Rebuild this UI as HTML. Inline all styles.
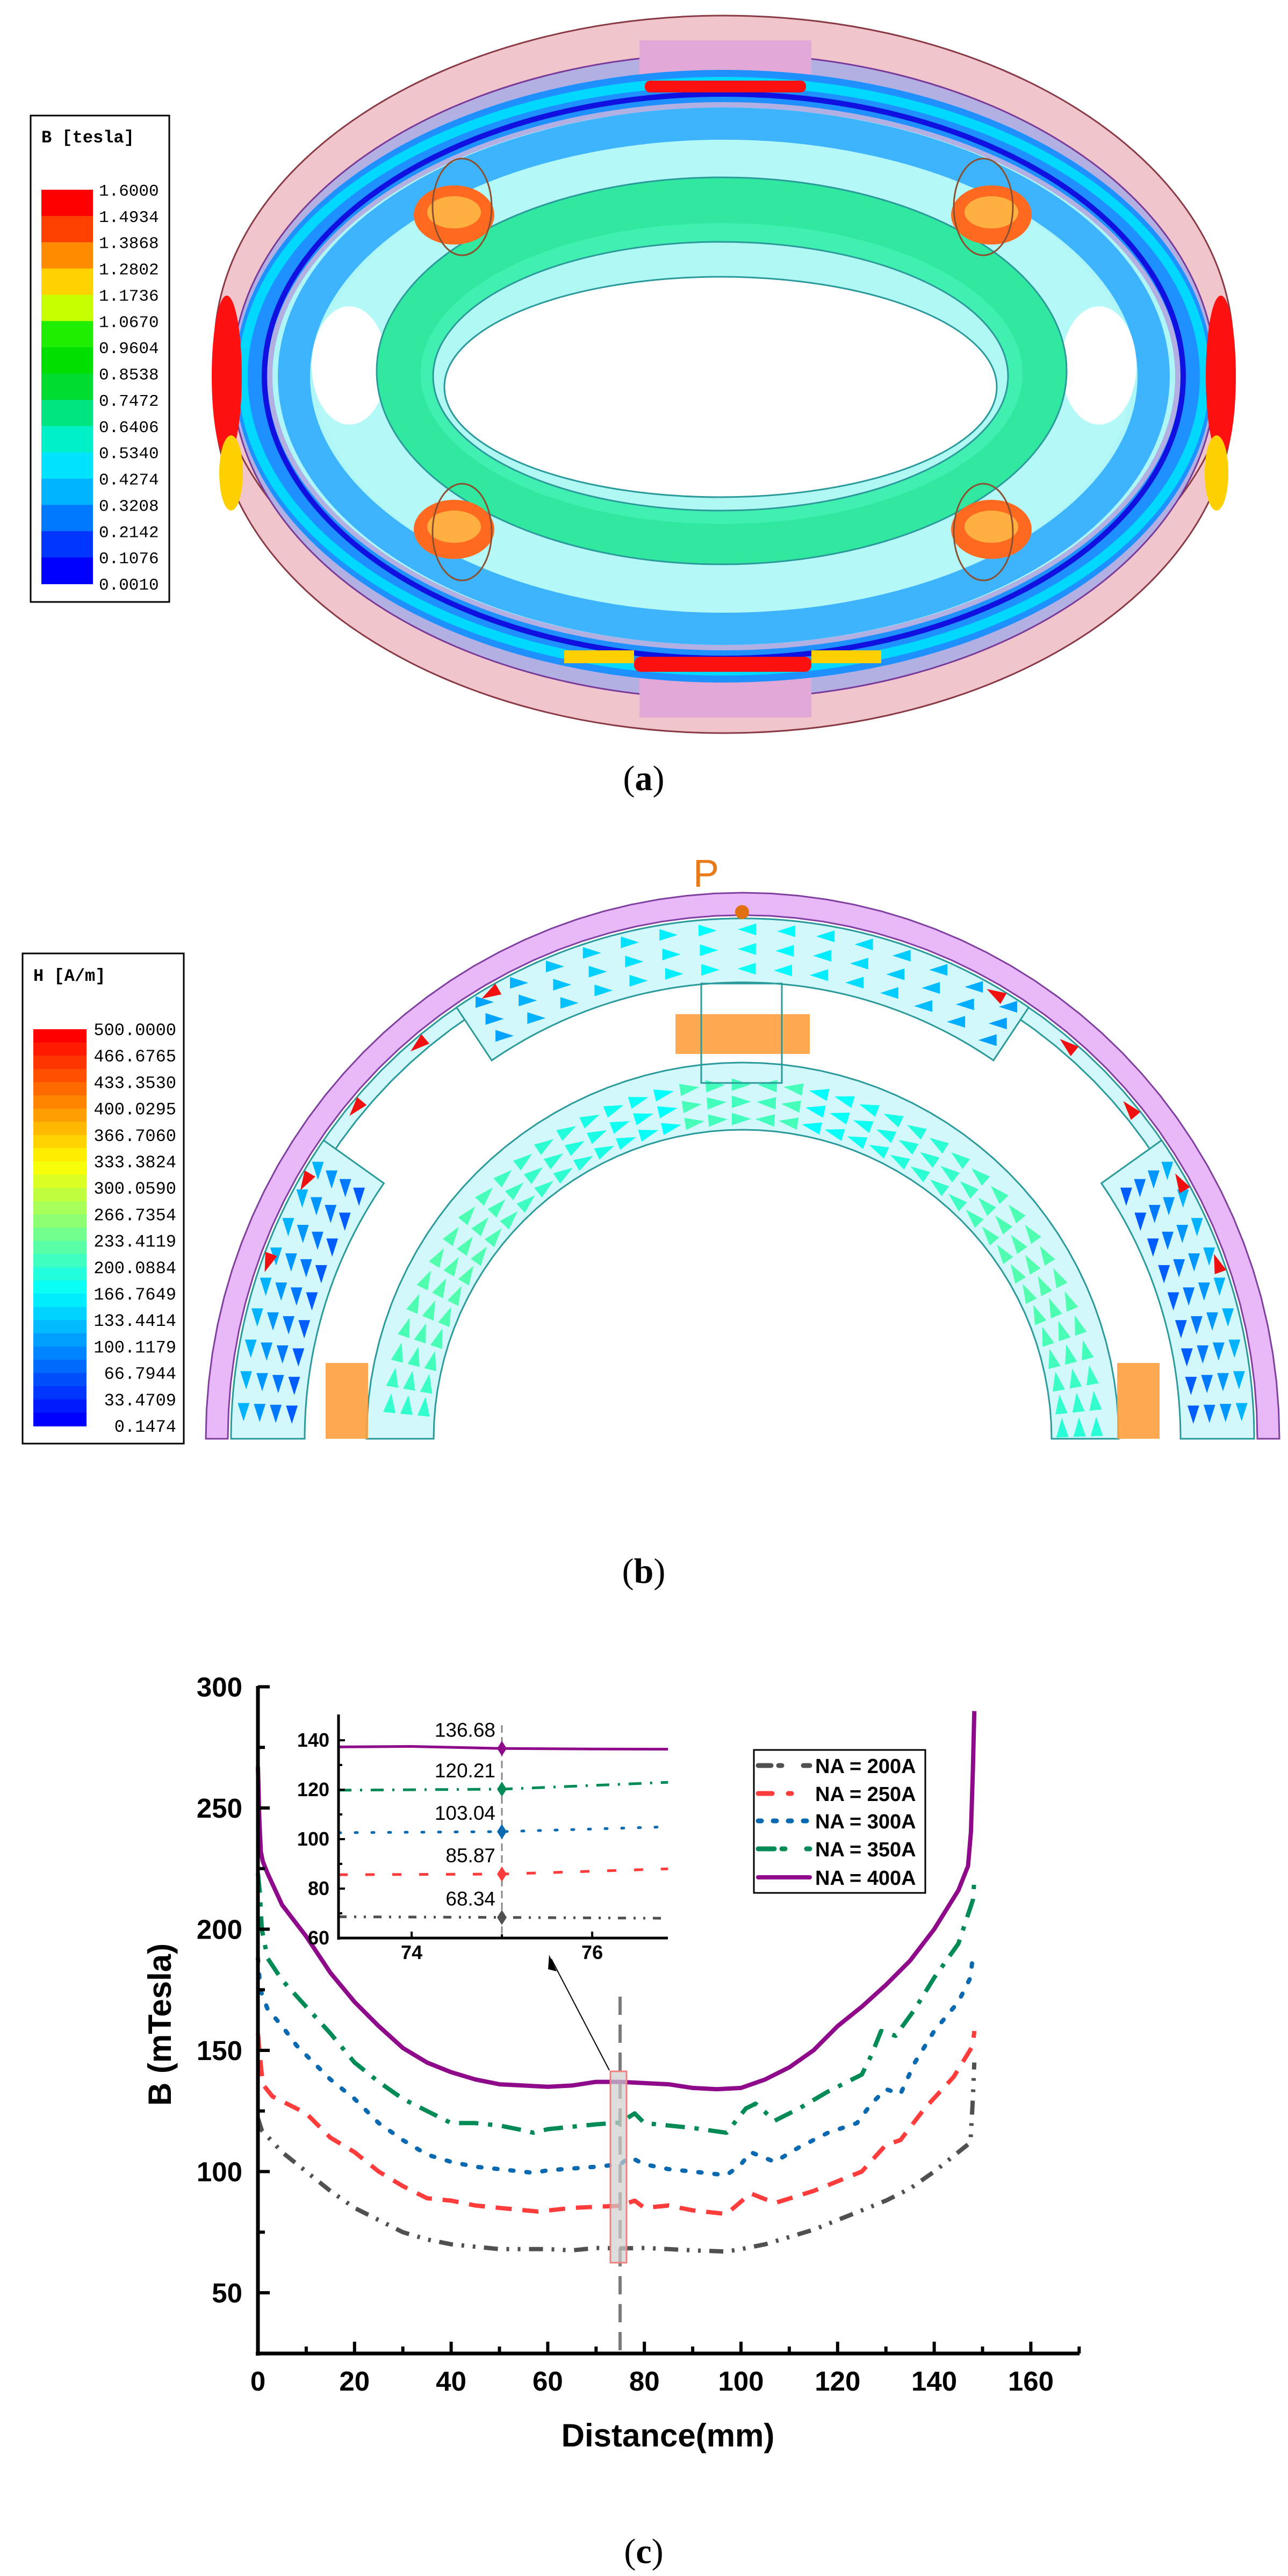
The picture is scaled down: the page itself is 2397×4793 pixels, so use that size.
<!DOCTYPE html>
<html><head><meta charset="utf-8"><style>
html,body{margin:0;padding:0;background:#fff}
svg{display:block}
.tk{font-family:"Liberation Sans",Arial,sans-serif;font-weight:bold}
.mono{font-family:"Liberation Mono",monospace}
</style></head><body>
<svg id="s" width="2397" height="4793" viewBox="0 0 2397 4793" xmlns="http://www.w3.org/2000/svg">
<rect width="2397" height="4793" fill="#fff"/>

<!-- ================= (a) ================= -->
<g id="a">
  <ellipse cx="1347" cy="744" rx="948" ry="620" fill="#f0c6cc" stroke="#8a3a45" stroke-width="3"/>
  <rect x="399" y="649" width="1897" height="95" fill="#f0c6cc"/>
  <ellipse cx="1347" cy="649" rx="948" ry="620" fill="#f0c6cc" stroke="#8a3a45" stroke-width="3"/>
  <ellipse cx="1347" cy="700" rx="915" ry="600" fill="#b2b0e2" stroke="#7a3a9a" stroke-width="3"/>
  <rect x="1190" y="75" width="320" height="110" fill="#e2a8d8"/>
  <rect x="1190" y="1235" width="320" height="100" fill="#e2a8d8"/>
  <ellipse cx="1347" cy="700" rx="880" ry="540" fill="none" stroke="#1e90ff" stroke-width="60"/>
  <ellipse cx="1347" cy="700" rx="895" ry="548" fill="none" stroke="#00d8ff" stroke-width="18"/>
  <ellipse cx="1347" cy="700" rx="855" ry="525" fill="none" stroke="#1010e0" stroke-width="10"/>
  <ellipse cx="422" cy="700" rx="28" ry="150" fill="#ff1010"/>
  <ellipse cx="2272" cy="700" rx="28" ry="150" fill="#ff1010"/>
  <ellipse cx="430" cy="880" rx="22" ry="70" fill="#ffd000"/>
  <ellipse cx="2264" cy="880" rx="22" ry="70" fill="#ffd000"/>
  <rect x="1200" y="150" width="300" height="22" rx="10" fill="#ff1010"/>
  <rect x="1180" y="1222" width="330" height="28" rx="12" fill="#ff1010"/>
  <rect x="1050" y="1210" width="130" height="24" fill="#ffd000"/>
  <rect x="1510" y="1210" width="130" height="24" fill="#ffd000"/>
  <ellipse cx="1347" cy="700" rx="840" ry="500" fill="#aef6f8"/>
  <ellipse cx="1347" cy="700" rx="800" ry="470" fill="none" stroke="#2aa8ff" stroke-width="60" opacity="0.85"/>
  <ellipse cx="1347" cy="700" rx="760" ry="440" fill="#b4f8f8"/>
  <ellipse cx="650" cy="680" rx="70" ry="110" fill="#fff"/>
  <ellipse cx="2045" cy="680" rx="70" ry="110" fill="#fff"/>
  <ellipse cx="1343" cy="690" rx="642" ry="360" fill="#30e8a0" stroke="#2a9a9a" stroke-width="3"/>
  <ellipse cx="1343" cy="695" rx="560" ry="280" fill="#40f0b0"/>
  <ellipse cx="1341" cy="700" rx="535" ry="250" fill="#b0f8f4" stroke="#2a9a9a" stroke-width="3"/>
  <ellipse cx="1341" cy="720" rx="514" ry="205" fill="#fff" stroke="#2a9a9a" stroke-width="3"/>
  <g>
    <ellipse cx="845" cy="400" rx="75" ry="55" fill="#ff6a20"/><ellipse cx="845" cy="395" rx="50" ry="30" fill="#ffb040"/>
    <ellipse cx="1845" cy="400" rx="75" ry="55" fill="#ff6a20"/><ellipse cx="1845" cy="395" rx="50" ry="30" fill="#ffb040"/>
    <ellipse cx="845" cy="985" rx="75" ry="55" fill="#ff6a20"/><ellipse cx="845" cy="980" rx="50" ry="30" fill="#ffb040"/>
    <ellipse cx="1845" cy="985" rx="75" ry="55" fill="#ff6a20"/><ellipse cx="1845" cy="980" rx="50" ry="30" fill="#ffb040"/>
    <ellipse cx="860" cy="385" rx="55" ry="90" fill="none" stroke="#8a5030" stroke-width="3"/>
    <ellipse cx="1830" cy="385" rx="55" ry="90" fill="none" stroke="#8a5030" stroke-width="3"/>
    <ellipse cx="860" cy="990" rx="55" ry="90" fill="none" stroke="#8a5030" stroke-width="3"/>
    <ellipse cx="1830" cy="990" rx="55" ry="90" fill="none" stroke="#8a5030" stroke-width="3"/>
  </g>
  <rect x="57" y="215" width="258" height="905" fill="#fff" stroke="#000" stroke-width="3"/>
  <text x="77" y="265" class="mono" font-size="32" font-weight="bold">B [tesla]</text>
  <g id="barA"></g>
</g>
<text x="1198" y="1470" font-family="'Liberation Serif',serif" font-size="66" text-anchor="middle">(<tspan font-weight="bold">a</tspan>)</text>

<!-- ================= (b) ================= -->
<g id="b">
  <path id="purp" fill="#e8b8f8" stroke="#8040a0" stroke-width="3"/>
  <path id="thin" fill="#d2f8fc" stroke="#2a9a9a" stroke-width="3"/>
  <path id="topblk" fill="#d2f8fc" stroke="#2a9a9a" stroke-width="3"/>
  <path id="lblk" fill="#d2f8fc" stroke="#2a9a9a" stroke-width="3"/>
  <path id="rblk" fill="#d2f8fc" stroke="#2a9a9a" stroke-width="3"/>
  <path id="inner" fill="#d2f8fc" stroke="#2a9a9a" stroke-width="3"/>
  <g id="arrows"></g>
  <rect x="1257" y="1887" width="250" height="74" fill="#ffa040" opacity="0.9"/>
  <rect x="1305" y="1830" width="150" height="185" fill="none" stroke="#2a9a9a" stroke-width="3"/>
  <rect x="606" y="2536" width="79" height="141" fill="#ffa040" opacity="0.9"/>
  <rect x="2079" y="2536" width="79" height="141" fill="#ffa040" opacity="0.9"/>
  <text x="1290" y="1650" font-family="'Liberation Sans',sans-serif" font-size="72" fill="#e87a1a">P</text>
  <circle cx="1381" cy="1697" r="13" fill="#e07010"/>
  <rect x="42" y="1774" width="300" height="912" fill="#fff" stroke="#000" stroke-width="3"/>
  <text x="62" y="1825" class="mono" font-size="32" font-weight="bold">H [A/m]</text>
  <g id="barB"></g>
</g>
<text x="1198" y="2945" font-family="'Liberation Serif',serif" font-size="66" text-anchor="middle">(<tspan font-weight="bold">b</tspan>)</text>

<!-- ================= (c) ================= -->
<g id="c">
  <line x1="1154" y1="3715" x2="1154" y2="4379" stroke="#7a7a7a" stroke-width="6" stroke-dasharray="34,18"/>
  <g id="curves"></g>
  <rect x="1136" y="3854" width="30" height="356" fill="#cfcfcf" fill-opacity="0.7" stroke="#f08080" stroke-width="3"/>
  <line x1="1134" y1="3852" x2="1026" y2="3645" stroke="#000" stroke-width="2"/>
  <polygon points="1022,3637 1036,3668 1020,3664" fill="#000"/>
  <g id="axes"></g>
  <text x="1243" y="4552" class="tk" font-size="60" text-anchor="middle">Distance(mm)</text>
  <text transform="translate(318,3767) rotate(-90)" class="tk" font-size="60" text-anchor="middle">B (mTesla)</text>
  <g id="inset"></g>
  <rect x="1403" y="3256" width="319" height="266" fill="#fff" stroke="#000" stroke-width="3"/>
  <g id="leg"></g>
</g>
<text x="1198" y="4769" font-family="'Liberation Serif',serif" font-size="66" text-anchor="middle">(<tspan font-weight="bold">c</tspan>)</text>
</svg>
<script>
(function(){
var NS="http://www.w3.org/2000/svg";
function el(parent,tag,attrs,txt){var e=document.createElementNS(NS,tag);for(var k in attrs)e.setAttribute(k,attrs[k]);if(txt!=null)e.textContent=txt;parent.appendChild(e);return e;}
function $(id){return document.getElementById(id);}
var colA=["#ff0000","#ff4000","#ff8c00","#ffd200","#c8ff00","#20ee00","#00e000","#00dc30","#00e480","#00f0c8","#00e4ff","#00b4ff","#0078ff","#0036ff","#0000ff"];
var labA=["1.6000","1.4934","1.3868","1.2802","1.1736","1.0670","0.9604","0.8538","0.7472","0.6406","0.5340","0.4274","0.3208","0.2142","0.1076","0.0010"];
var g=$("barA"),y0=353,y1=1086,h=(y1-y0)/15;
for(var i=0;i<15;i++)el(g,"rect",{x:77,y:y0+i*h,width:96,height:h+1,fill:colA[i]});
for(var i=0;i<16;i++)el(g,"text",{x:184,y:y0+i*(y1-y0)/15+11,"font-size":31,"class":"mono"},labA[i]);
function jet0(t){
  var r=Math.min(1,Math.max(0,1.5-Math.abs(4*t-3))),gg=Math.min(1,Math.max(0,1.5-Math.abs(4*t-2))),b=Math.min(1,Math.max(0,1.5-Math.abs(4*t-1)));
  return "rgb("+Math.round(r*255)+","+Math.round(gg*255)+","+Math.round(b*255)+")";}
function jet(t){t=Math.max(0,Math.min(1,t));return jet0(0.125+0.75*t);}
var labB=["500.0000","466.6765","433.3530","400.0295","366.7060","333.3824","300.0590","266.7354","233.4119","200.0884","166.7649","133.4414","100.1179","66.7944","33.4709","0.1474"];
g=$("barB");y0=1915;y1=2653;var n=30;h=(y1-y0)/n;
for(var i=0;i<n;i++)el(g,"rect",{x:62,y:y0+i*h,width:99,height:h+1,fill:jet(1-i/(n-1))});
for(var i=0;i<16;i++)el(g,"text",{x:328,y:y0+i*(y1-y0)/15+11,"font-size":32,"class":"mono","text-anchor":"end"},labB[i]);
var cx=1382,cy=2677;
function P(r,ang,sy){sy=sy||1.017;return [cx+r*Math.cos(ang),cy-r*sy*Math.sin(ang)];}
function annulus(r1,r2,a1,a2,sy){var d="",N=60,i,p;
  for(i=0;i<=N;i++){p=P(r2,a1+(a2-a1)*i/N,sy);d+=(i?"L":"M")+p[0].toFixed(1)+","+p[1].toFixed(1);}
  for(i=N;i>=0;i--){p=P(r1,a1+(a2-a1)*i/N,sy);d+="L"+p[0].toFixed(1)+","+p[1].toFixed(1);}
  return d+"Z";}
var D=Math.PI/180;
$("purp").setAttribute("d",annulus(958,999,0,Math.PI));
$("thin").setAttribute("d",annulus(925,952,0,Math.PI));
$("topblk").setAttribute("d",annulus(835,952,(90-34)*D,(90+34)*D));
$("lblk").setAttribute("d",annulus(815,952,145*D,180*D));
$("rblk").setAttribute("d",annulus(815,952,0,35*D));
$("inner").setAttribute("d",annulus(575,700,0,Math.PI,1.0));
var ag=$("arrows");
function tri(x,y,ang,len,col){var w=len*0.32,c=Math.cos(ang),s=Math.sin(ang);
  var p=[[x+c*len/2,y+s*len/2],[x-c*len/2-s*w,y-s*len/2+c*w],[x-c*len/2+s*w,y-s*len/2-c*w]];
  el(ag,"polygon",{points:p.map(function(q){return q[0].toFixed(1)+","+q[1].toFixed(1)}).join(" "),fill:col});}
for(var r=595;r<=690;r+=32){for(var a=2;a<178;a+=4.2){var p=P(r,a*D,1.0);
  tri(p[0],p[1],-(a*D)+(a<90?Math.PI/2:-Math.PI/2)+Math.PI,36,jet(0.38+0.06*Math.sin(a*D*3)+(Math.abs(a-90)<12?0.1:0)));}}
for(var r=860;r<=935;r+=36){for(var a=58;a<=122;a+=4.5){var p=P(r,a*D);
  tri(p[0],p[1],(a<90?Math.PI:0),34,jet(0.2+0.15*(1-Math.abs(a-90)/34)));}}
for(var r=840;r<=935;r+=30){for(var a=3;a<=33;a+=3.6){var p=P(r,(180-a)*D),q=P(r,a*D);
  var c=jet(0.12+0.12*(r-840)/95);
  tri(p[0],p[1],Math.PI/2,34,c);tri(q[0],q[1],Math.PI/2,34,c);}}
for(var a=20;a<=160;a+=10){if(Math.abs(a-90)<25)continue;var p=P(940,a*D);tri(p[0],p[1],-a*D-Math.PI/2,36,"#f01010");}
function X(d){return 480+8.99*d} function Y(b){return 4266-(b-50)*4.51}
var ax=$("axes");
el(ax,"line",{x1:480,y1:3137,x2:480,y2:4383,stroke:"#000","stroke-width":7});
el(ax,"line",{x1:476,y1:4379,x2:2009,y2:4379,stroke:"#000","stroke-width":7});
for(var v=25;v<=300;v+=25){var yy=Y(v),maj=(v%50==0);el(ax,"line",{x1:480,y1:yy,x2:480+(maj?22:13),y2:yy,stroke:"#000","stroke-width":6});
  if(maj)el(ax,"text",{x:451,y:yy+18,"font-size":51,"class":"tk","text-anchor":"end"},v);}
for(var d=0;d<=170;d+=10){var xx=X(d),maj=(d%20==0);el(ax,"line",{x1:xx,y1:4379,x2:xx,y2:4379-(maj?22:13),stroke:"#000","stroke-width":6});
  if(maj&&d<=160)el(ax,"text",{x:xx,y:4448,"font-size":51,"class":"tk","text-anchor":"middle"},d);}
var S={k:{c:"#505050",da:"26,16,5,16,5,16"},r:{c:"#ff3c3c",da:"30,20"},b:{c:"#0868b0",da:"6,24"},g:{c:"#008a55",da:"36,18,8,18"},p:{c:"#8e0a8a",da:""}};
var data={
p:[[0,267],[0.3,245],[0.6,232],[1,228],[2,223],[5,210],[10,197],[15,182],[20,170],[25,160],[30,151],[35,145],[40,141],[45,138],[50,136],[55,135.5],[60,135],[65,135.5],[70,137],[75,137],[80,136.5],[85,136],[90,134.5],[95,134],[100,134.5],[105,138],[110,143],[115,150],[120,160],[125,168],[130,177],[135,187],[140,200],[145,216],[147,226],[147.6,240],[148,265],[148.3,290]],
g:[[0,223],[0.4,215],[0.8,200],[2,188],[5,179],[10,168],[15,157],[20,145],[25,137],[30,130],[35,125],[40,120],[45,120],[50,119],[55,117],[57,116],[60,117.5],[70,119.5],[75,120.2],[78,124],[80,120],[90,118],[97,116],[101,126],[103,128],[107,121],[112,126],[118,133],[125,140],[127,148],[129,158],[132,156],[136,167],[140,180],[145,194],[148,212],[148.3,220]],
b:[[0,188],[0.5,175],[2,167],[5,160],[8,152],[15,138],[20,130],[25,120],[30,113],[35,107],[40,104],[45,102],[50,101],[57,99.5],[60,100.5],[70,102],[75,103],[77,106],[80,103],[85,101],[90,100],[97,98.5],[100,103],[102,108],[107,104],[112,110],[118,116],[124,120],[127,128],[130,134],[133,132],[136,145],[140,158],[145,170],[147.5,180],[148,189]],
r:[[0,157],[0.4,148],[1,136],[3,131],[10,124],[15,114],[20,108],[25,100],[30,94],[35,89],[40,88],[45,86],[50,85],[58,83.5],[65,85],[75,85.9],[78,88],[80,85],[85,86],[90,84],[97,82.5],[102,91],[107,87],[115,92],[125,100],[130,111],[133,113],[138,126],[144,139],[148,152],[148.3,158]],
k:[[0,122],[0.8,117],[5,108],[10,100],[15,92],[20,85],[25,80],[30,75],[35,72],[40,70],[45,69],[50,68],[55,68],[60,68],[65,67.5],[70,68.5],[75,68.3],[80,68.5],[85,68],[90,67.5],[97,67],[100,68],[105,70],[110,73],[115,76],[120,80],[125,84],[130,88],[135,93],[140,100],[145,108],[147.5,112],[148,130],[148.3,145]]};
var cg=$("curves");
["k","r","b","g","p"].forEach(function(k){
  var pts=data[k].map(function(q){return X(q[0]).toFixed(1)+","+Y(q[1]).toFixed(1)}).join(" ");
  var a={points:pts,fill:"none",stroke:S[k].c,"stroke-width":8,"stroke-linejoin":"round","stroke-linecap":(k=="b"?"round":"butt")};
  if(S[k].da)a["stroke-dasharray"]=S[k].da;el(cg,"polyline",a);});
var ig=$("inset");
function IX(d){return 630+(d-73.19)*168} function IY(b){return 3606-(b-60)*4.6}
el(ig,"line",{x1:934,y1:3210,x2:934,y2:3606,stroke:"#888","stroke-width":3,"stroke-dasharray":"14,8"});
var idata={p:[[73.19,137.3],[74,137.5],[75,136.68],[76,136.45],[76.84,136.4]],g:[[73.19,119.8],[75,120.21],[76.84,123]],b:[[73.19,102.6],[75,103.04],[76.84,105]],r:[[73.19,85.6],[75,85.87],[76.84,88]],k:[[73.19,68.6],[75,68.34],[76.84,68]]};
var ida={k:"15,14,4,14,4,14",r:"17,33",b:"4,27",g:"24,16,4,16",p:""};
var vals={p:136.68,g:120.21,b:103.04,r:85.87,k:68.34};
["k","r","b","g","p"].forEach(function(k){
  var pts=idata[k].map(function(q){return IX(q[0]).toFixed(1)+","+IY(q[1]).toFixed(1)}).join(" ");
  var a={points:pts,fill:"none",stroke:S[k].c,"stroke-width":5,"stroke-linecap":(k=="b"?"round":"butt")};
  if(ida[k])a["stroke-dasharray"]=ida[k];el(ig,"polyline",a);
  var yy=IY(vals[k]);el(ig,"polygon",{points:"934,"+(yy-14)+" 943,"+yy+" 934,"+(yy+14)+" 925,"+yy,fill:S[k].c});
  el(ig,"text",{x:922,y:yy-22,"font-size":37,"font-family":"Liberation Sans,sans-serif","text-anchor":"end"},vals[k].toFixed(2));});
el(ig,"line",{x1:630,y1:3190,x2:630,y2:3609,stroke:"#000","stroke-width":5});
el(ig,"line",{x1:628,y1:3606,x2:1243,y2:3606,stroke:"#000","stroke-width":5});
for(var v=60;v<=145;v+=10){var yy=IY(v),maj=(v%20==0);el(ig,"line",{x1:630,y1:yy,x2:630+(maj?12:7),y2:yy,stroke:"#000","stroke-width":4});
  if(maj)el(ig,"text",{x:613,y:yy+12,"font-size":36,"class":"tk","text-anchor":"end"},v);}
[74,75,76].forEach(function(d){var xx=IX(d);el(ig,"line",{x1:xx,y1:3606,x2:xx,y2:3606-(d%2==0?12:7),stroke:"#000","stroke-width":4});
  if(d%2==0)el(ig,"text",{x:xx,y:3645,"font-size":36,"class":"tk","text-anchor":"middle"},d);});
var lg=$("leg"),names={k:"NA = 200A",r:"NA = 250A",b:"NA = 300A",g:"NA = 350A",p:"NA = 400A"},ly={k:3285,r:3337,b:3388,g:3440,p:3493},lda={k:"24,14,6,40",r:"26,30,6,40",b:"6,22",g:"30,14,6,40",p:""};
["k","r","b","g","p"].forEach(function(k){
  var a={x1:1411,y1:ly[k],x2:1507,y2:ly[k],stroke:S[k].c,"stroke-width":(k=="p"?8:9),"stroke-linecap":"round"};
  if(lda[k])a["stroke-dasharray"]=lda[k];el(lg,"line",a);
  el(lg,"text",{x:1517,y:ly[k]+14,"font-size":38,"class":"tk"},names[k]);});
})();
</script>
</body></html>
